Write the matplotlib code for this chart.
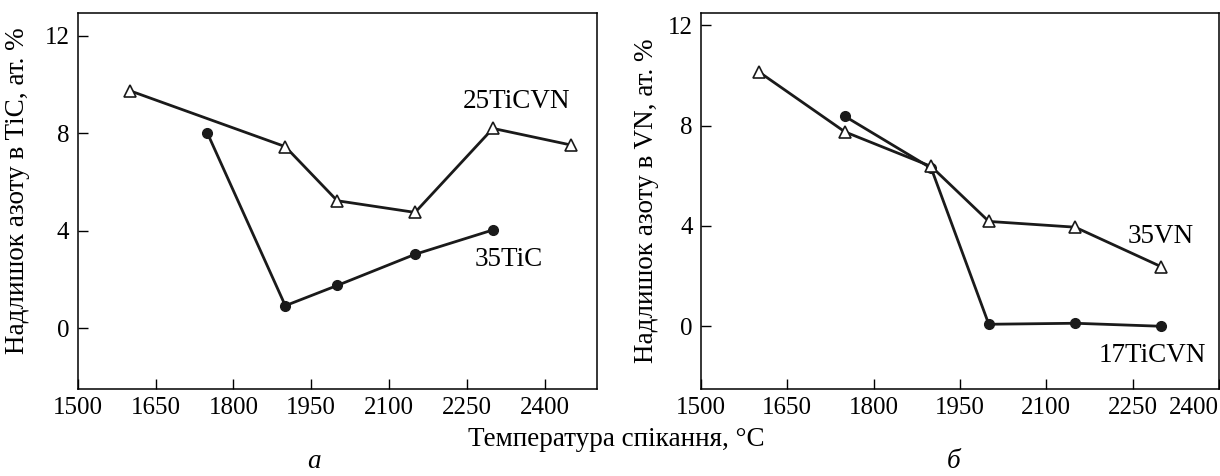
import matplotlib
matplotlib.use('Agg')
import matplotlib.pyplot as plt

plt.rcParams['font.family'] = ['Liberation Serif', 'DejaVu Serif']

# панель а: нітрогенний надлишок у TiC
t_25ticvn = [1600, 1900, 2000, 2150, 2300, 2450]
n_25ticvn = [9.75, 7.45, 5.23, 4.75, 8.2, 7.52]
t_35tic = [1750, 1900, 2000, 2150, 2300]
n_35tic = [8.0, 0.92, 1.75, 3.03, 4.03]

# панель б: нітрогенний надлишок у VN
t_35vn = [1600, 1750, 1900, 2000, 2150, 2300]
n_35vn = [10.15, 7.75, 6.37, 4.18, 3.95, 2.37]
t_17ticvn = [1750, 1900, 2000, 2150, 2300]
n_17ticvn = [8.37, 6.3, 0.08, 0.12, 0.0]

x_ticks = [1500, 1650, 1800, 1950, 2100, 2250, 2400]
y_ticks = [0, 4, 8, 12]

fs_tick = 18
fs = 19.5

fig = plt.figure(figsize=(12.2, 4.76), dpi=100)
ax1 = fig.add_axes([0.0637, 0.1828, 0.4254, 0.7905])
ax2 = fig.add_axes([0.5746, 0.1828, 0.4246, 0.7905])


def style(ax, ylabel, xlim, ylim, lab_x, lab_y):
    ax.set_xlim(*xlim)
    ax.set_ylim(*ylim)
    ax.set_xticks(x_ticks)
    ax.set_yticks(y_ticks)
    ax.tick_params(direction='in', length=7, width=1, labelsize=fs_tick, pad=6,
                   top=False, right=False)
    for s in ax.spines.values():
        s.set_linewidth(1.1)
    ax.set_ylabel(ylabel, fontsize=fs)
    ax.yaxis.set_label_coords(lab_x, lab_y)


lw = 2.0
ax1.plot(t_25ticvn, n_25ticvn, '-', color='#1a1a1a', lw=lw, marker='^', ms=8,
         mfc='white', mec='#1a1a1a', mew=1.2)
ax1.plot(t_35tic, n_35tic, '-', color='#1a1a1a', lw=lw, marker='o', ms=7,
         mfc='#1a1a1a', mec='#1a1a1a')
ax1.text(2345, 9.3, '25TiCVN', fontsize=fs, ha='center', va='center')
ax1.text(2330, 2.8, '35TiC', fontsize=fs, ha='center', va='center')
style(ax1, 'Надлишок азоту в TiC, ат. %', (1500, 2500), (-2.5, 12.95),
      -0.092, 0.526)

ax2.plot(t_35vn, n_35vn, '-', color='#1a1a1a', lw=lw, marker='^', ms=8,
         mfc='white', mec='#1a1a1a', mew=1.2, zorder=3)
ax2.plot(t_17ticvn, n_17ticvn, '-', color='#1a1a1a', lw=lw, marker='o', ms=7,
         mfc='#1a1a1a', mec='#1a1a1a', zorder=2)
ax2.text(2298, 3.57, '35VN', fontsize=fs, ha='center', va='center')
ax2.text(2284, -1.16, '17TiCVN', fontsize=fs, ha='center', va='center')
style(ax2, 'Надлишок азоту в VN, ат. %', (1500, 2400), (-2.5, 12.5),
      -0.081, 0.5)
# last tick label sits inside the frame
ax2.get_xticklabels()[-1].set_ha('right')

fig.text(616 / 1220, 1 - 439 / 476, 'Температура спікання, °C', fontsize=fs,
         ha='center', va='center')
fig.text(314 / 1220, 1 - 461 / 476, 'а', fontsize=fs, style='italic',
         ha='center', va='center')
fig.text(954 / 1220, 1 - 461 / 476, 'б', fontsize=fs, style='italic',
         ha='center', va='center')

fig.savefig('out.png', dpi=100)
